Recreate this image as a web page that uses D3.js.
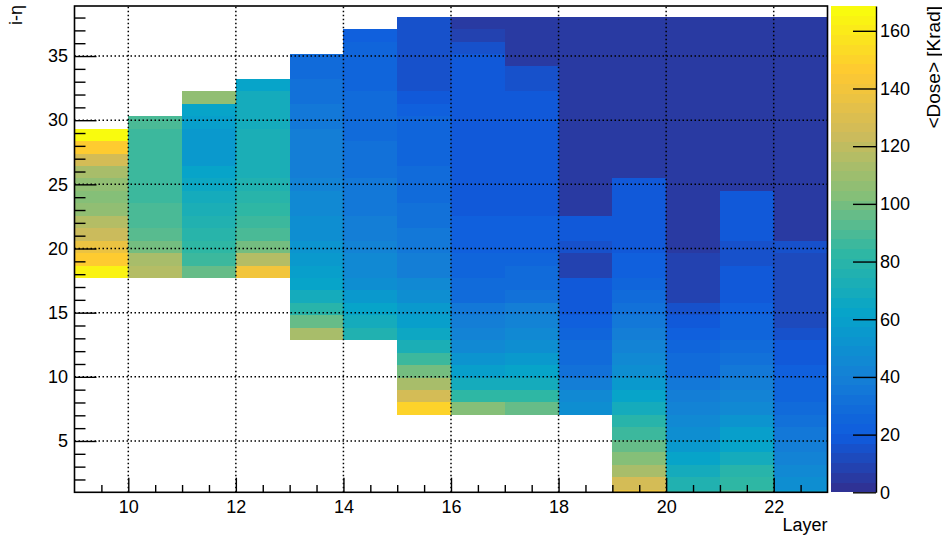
<!DOCTYPE html>
<html><head><meta charset="utf-8">
<script src="https://cdn.jsdelivr.net/npm/d3@7"></script>
<style>
html,body{margin:0;padding:0;background:#fff;}
svg{display:block;font-family:"Liberation Sans",Arial,Helvetica,sans-serif;}
</style>
</head><body>
<svg id="chart" width="942" height="539"></svg>
<script>
// ---------------- data ----------------
const layers = [9, 10, 11, 12, 13, 14, 15, 16, 17, 18, 19, 20, 21, 22];
const etaEdges = [0.24, 1.21, 2.18, 3.15, 4.12, 5.09, 6.06, 7.03, 8.00, 8.97,
  9.94, 10.91, 11.88, 12.85, 13.82, 14.79, 15.76, 16.73, 17.70, 18.67,
  19.64, 20.61, 21.58, 22.55, 23.52, 24.49, 25.46, 26.43, 27.40, 28.37,
  29.34, 30.31, 31.28, 32.25, 33.22, 34.19, 35.16, 36.13, 37.10, 38.07];
// first eta bin (index into etaEdges) filled for each layer
const firstEtaBin = [18, 18, 18, 18, 13, 13, 7, 7, 7, 7, 0, 0, 0, 0];
// mean dose per eta bin, bottom to top
const dose_L9  = [162, 146, 136, 124, 116, 106, 103, 105, 112, 128, 146, 168];
const dose_L10 = [118, 112, 98, 92, 90, 88, 86, 86, 85, 85, 86, 86, 88];
const dose_L11 = [95, 85, 82, 78, 75, 72, 70, 66, 62, 56, 54, 56, 60, 63, 106];
const dose_L12 = [140, 116, 100, 90, 85, 82, 78, 75, 74, 72, 72, 72, 70, 70, 68, 64];
const dose_L13 = [112, 95, 78, 70, 62, 58, 55, 52, 50, 48, 46, 44, 42, 40, 40, 38, 38, 37, 35, 33, 32, 30, 28];
const dose_L14 = [75, 68, 62, 55, 50, 46, 44, 42, 40, 38, 37, 36, 35, 33, 33, 32, 30, 30, 28, 28, 26, 25, 24, 24, 22];
const dose_L15 = [150, 125, 112, 98, 85, 74, 66, 60, 54, 48, 44, 40, 38, 36, 34, 32, 31, 30, 28, 27,
  26, 25, 25, 24, 22, 18, 15, 15, 15, 15, 15, 15];
const dose_L16 = [102, 82, 68, 58, 52, 46, 42, 38, 34, 30, 28, 26, 24, 22, 22, 21, 20, 20, 20, 20,
  19, 19, 18, 18, 18, 18, 18, 17, 17, 16, 7, 6];
const dose_L17 = [95, 82, 70, 62, 55, 50, 46, 42, 38, 33, 30, 28, 25, 23, 22, 21, 20, 19, 19, 18,
  18, 18, 18, 17, 17, 17, 16, 16, 5, 5, 5, 5];
const dose_L18 = [50, 45, 38, 33, 30, 27, 24, 22, 20, 18, 17, 10, 10, 16, 17, 17,
  4, 4, 4, 4, 4, 4, 4, 4, 4, 4, 4, 4, 4, 4, 4, 4];
const dose_L19 = [135, 125, 112, 104, 96, 86, 78, 70, 62, 56, 50, 46, 42, 38, 35, 32, 28, 25, 23, 21,
  20, 19, 18, 18, 18, 17, 4, 4, 4, 4, 4, 4, 4, 4, 4, 4, 4, 4, 4];
const dose_L20 = [80, 76, 68, 62, 56, 50, 46, 42, 38, 35, 30, 28, 25, 22, 20, 15, 10, 10, 10, 10,
  6, 4, 4, 4, 4, 4, 4, 4, 4, 4, 4, 4, 4, 4, 4, 4, 4, 4, 4];
const dose_L21 = [88, 84, 78, 70, 64, 58, 52, 47, 42, 38, 34, 31, 28, 26, 24, 22, 20, 19, 18, 16,
  16, 17, 17, 18, 18, 4, 4, 4, 4, 4, 4, 4, 4, 4, 4, 4, 4, 4, 4];
const dose_L22 = [55, 50, 46, 42, 38, 35, 32, 29, 26, 24, 22, 20, 19, 16, 12, 12, 11, 11, 11, 12,
  14, 4, 4, 4, 4, 4, 4, 4, 4, 4, 4, 4, 4, 4, 4, 4, 4, 4, 4];
const doseByLayer = [dose_L9, dose_L10, dose_L11, dose_L12, dose_L13, dose_L14, dose_L15,
  dose_L16, dose_L17, dose_L18, dose_L19, dose_L20, dose_L21, dose_L22];

const xTicks = [10, 12, 14, 16, 18, 20, 22];
const yTicks = [5, 10, 15, 20, 25, 30, 35];
const zTicks = [0, 20, 40, 60, 80, 100, 120, 140, 160];
const xTitle = "Layer";
const yTitle = "i-η";
const zTitle = "<Dose> [Krad]";

// ---------------- setup ----------------
const svg = d3.select("#chart");
const F = {l: 74.5, r: 827.5, t: 6, b: 492.3};
const x = d3.scaleLinear().domain([9, 23]).range([F.l, F.r]);
const y = d3.scaleLinear().domain([1, 38.9]).range([F.b, F.t]);
const zMax = 168.6, nCont = 50;
const z = d3.scaleLinear().domain([0, zMax]).range([F.b, F.t]);

// ROOT kBird palette
const bStops = [0, 0.125, 0.25, 0.375, 0.5, 0.625, 0.75, 0.875, 1];
const bR = [0.2082, 0.0592, 0.0780, 0.0232, 0.1802, 0.5301, 0.8186, 0.9956, 0.9764];
const bG = [0.1664, 0.3599, 0.5041, 0.6419, 0.7178, 0.7492, 0.7328, 0.7862, 0.9832];
const bB = [0.5293, 0.8684, 0.8385, 0.7914, 0.6425, 0.4662, 0.3499, 0.1968, 0.0539];
const cR = d3.scaleLinear().domain(bStops).range(bR);
const cG = d3.scaleLinear().domain(bStops).range(bG);
const cB = d3.scaleLinear().domain(bStops).range(bB);
function bird(f) {
  return d3.rgb(Math.round(cR(f) * 255), Math.round(cG(f) * 255), Math.round(cB(f) * 255)).toString();
}
function levelColor(i) {
  const j = Math.min(254, Math.floor((i + 0.99) * 255 / nCont));
  return bird(j / 254);
}
function doseColor(v) {
  let i = Math.floor(v / zMax * nCont);
  i = Math.max(0, Math.min(nCont - 1, i));
  return levelColor(i);
}

// clip
svg.append("defs").append("clipPath").attr("id", "clipF")
  .append("rect").attr("x", F.l).attr("y", F.t).attr("width", F.r - F.l).attr("height", F.b - F.t);

// ---------------- cells ----------------
const cells = [];
layers.forEach((L, c) => {
  doseByLayer[c].forEach((v, j) => {
    const bin = firstEtaBin[c] + j;
    cells.push({x0: L, x1: L + 1, y0: etaEdges[bin], y1: etaEdges[bin + 1], v: v});
  });
});
svg.append("g").attr("clip-path", "url(#clipF)")
  .selectAll("rect").data(cells).join("rect")
  .attr("x", d => x(d.x0))
  .attr("width", d => x(d.x1) - x(d.x0))
  .attr("y", d => y(d.y1))
  .attr("height", d => y(d.y0) - y(d.y1))
  .attr("fill", d => doseColor(d.v))
  .attr("shape-rendering", "crispEdges");

// ---------------- grid ----------------
const grid = svg.append("g").attr("stroke", "#000").attr("stroke-width", 1.5)
  .attr("stroke-dasharray", "1.5,2.5");
grid.selectAll(".gx").data(xTicks).join("line")
  .attr("x1", d => x(d)).attr("x2", d => x(d)).attr("y1", F.b).attr("y2", F.t);
grid.selectAll(".gy").data(yTicks).join("line")
  .attr("y1", d => y(d)).attr("y2", d => y(d)).attr("x1", F.l).attr("x2", F.r);

// ---------------- axes ----------------
const fs = "18px";
const xMinor = d3.range(9.5, 23, 0.5).filter(v => xTicks.indexOf(v) < 0);
const yMinor = d3.range(2, 39, 1).filter(v => yTicks.indexOf(v) < 0);

const gx = svg.append("g").attr("transform", `translate(0,${F.b})`)
  .call(d3.axisBottom(x).tickValues(xTicks).tickSize(-14.6).tickSizeOuter(0).tickPadding(8).tickFormat(d3.format("d")));
gx.select(".domain").remove();
gx.selectAll("text").attr("font-size", fs).attr("fill", "#000").attr("font-family", null);
gx.selectAll("line").attr("stroke", "#000").attr("stroke-width", 1.4);
const gxm = svg.append("g").attr("transform", `translate(0,${F.b})`)
  .call(d3.axisBottom(x).tickValues(xMinor).tickSize(-7.3).tickFormat(""));
gxm.select(".domain").remove();
gxm.selectAll("line").attr("stroke", "#000").attr("stroke-width", 1.4);

const gy = svg.append("g").attr("transform", `translate(${F.l},0)`)
  .call(d3.axisLeft(y).tickValues(yTicks).tickSize(-22).tickSizeOuter(0).tickPadding(6.5).tickFormat(d3.format("d")));
gy.select(".domain").remove();
gy.selectAll("text").attr("font-size", fs).attr("fill", "#000").attr("font-family", null);
gy.selectAll("line").attr("stroke", "#000").attr("stroke-width", 1.4);
const gym = svg.append("g").attr("transform", `translate(${F.l},0)`)
  .call(d3.axisLeft(y).tickValues(yMinor).tickSize(-11).tickFormat(""));
gym.select(".domain").remove();
gym.selectAll("line").attr("stroke", "#000").attr("stroke-width", 1.4);

// frame
svg.append("rect").attr("x", F.l).attr("y", F.t).attr("width", F.r - F.l).attr("height", F.b - F.t)
  .attr("fill", "none").attr("stroke", "#000").attr("stroke-width", 1.6);

// titles
svg.append("text").attr("x", F.r).attr("y", 531).attr("text-anchor", "end")
  .attr("font-size", fs).text(xTitle);
svg.append("text").attr("transform", "translate(22,5) rotate(-90)").attr("text-anchor", "end")
  .attr("font-size", fs).text(yTitle);

// ---------------- colour bar ----------------
const barX0 = 831, barX1 = 876;
const levels = d3.range(nCont);
svg.append("g").selectAll("rect").data(levels).join("rect")
  .attr("x", barX0).attr("width", barX1 - barX0)
  .attr("y", d => z((d + 1) * zMax / nCont))
  .attr("height", d => z(d * zMax / nCont) - z((d + 1) * zMax / nCont))
  .attr("fill", d => levelColor(d))
  .attr("shape-rendering", "crispEdges");
const gz = svg.append("g").attr("transform", `translate(${barX1},0)`)
  .call(d3.axisRight(z).tickValues(zTicks).tickSize(-23).tickSizeOuter(0).tickPadding(4));
gz.selectAll("text").attr("font-size", fs).attr("fill", "#000").attr("font-family", null);
gz.selectAll("line").attr("stroke", "#000").attr("stroke-width", 1.4);
gz.select(".domain").attr("stroke", "#000").attr("stroke-width", 1.4);
svg.append("text").attr("transform", "translate(939.5,6) rotate(-90)").attr("text-anchor", "end")
  .attr("font-size", "19px").text(zTitle);
</script>
</body></html>
